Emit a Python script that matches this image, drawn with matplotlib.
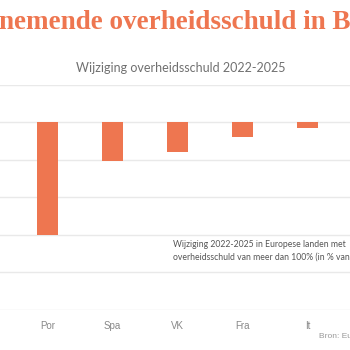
import matplotlib.pyplot as plt

landen = ['Por', 'Spa', 'VK', 'Fra', 'It']
wijziging = [-15.1, -5.1, -4.0, -1.9, -0.8]
y_ticks = [5, 0, -5, -10, -15, -20, -25]

oranje = '#ee7650'

fig = plt.figure(figsize=(3.5, 3.5), dpi=100)
ax = fig.add_axes([0, 0.1157, 1, 0.6414])

x = list(range(len(landen)))
ax.bar(x, wijziging, width=0.32, color=oranje, zorder=3)

ax.set_xlim(-0.731, 4.654)
ax.set_ylim(-25, 5)
ax.set_yticks(y_ticks)
ax.set_yticklabels([])
ax.set_xticks(x)
ax.set_xticklabels(landen, fontsize=7, color='#888888', family='Liberation Sans')
ax.tick_params(axis='both', length=0)
ax.tick_params(axis='x', pad=8)
ax.grid(axis='y', color='#e9e9e9', linewidth=1, zorder=0)
for s in ax.spines.values():
    s.set_visible(False)

fig.text(-0.003, 0.937, 'nemende overheidsschuld in België', fontsize=19.5,
         fontweight='bold', color=oranje, family='Liberation Serif', va='center', ha='left')
fig.text(0.517, 0.806, 'Wijziging overheidsschuld 2022-2025', fontsize=9,
         color='#707070', family='Lato', ha='center', va='center')
fig.text(0.493, 0.283, 'Wijziging 2022-2025 in Europese landen met\noverheidsschuld van meer dan 100% (in % van het bbp)',
         fontsize=6.2, color='#555555', family='Lato', ha='left', va='center', linespacing=1.35)
fig.text(0.911, 0.04, 'Bron: Eurostat', fontsize=6, color='#999999',
         family='Liberation Sans', ha='left', va='center')

fig.savefig('out.png', dpi=100)
